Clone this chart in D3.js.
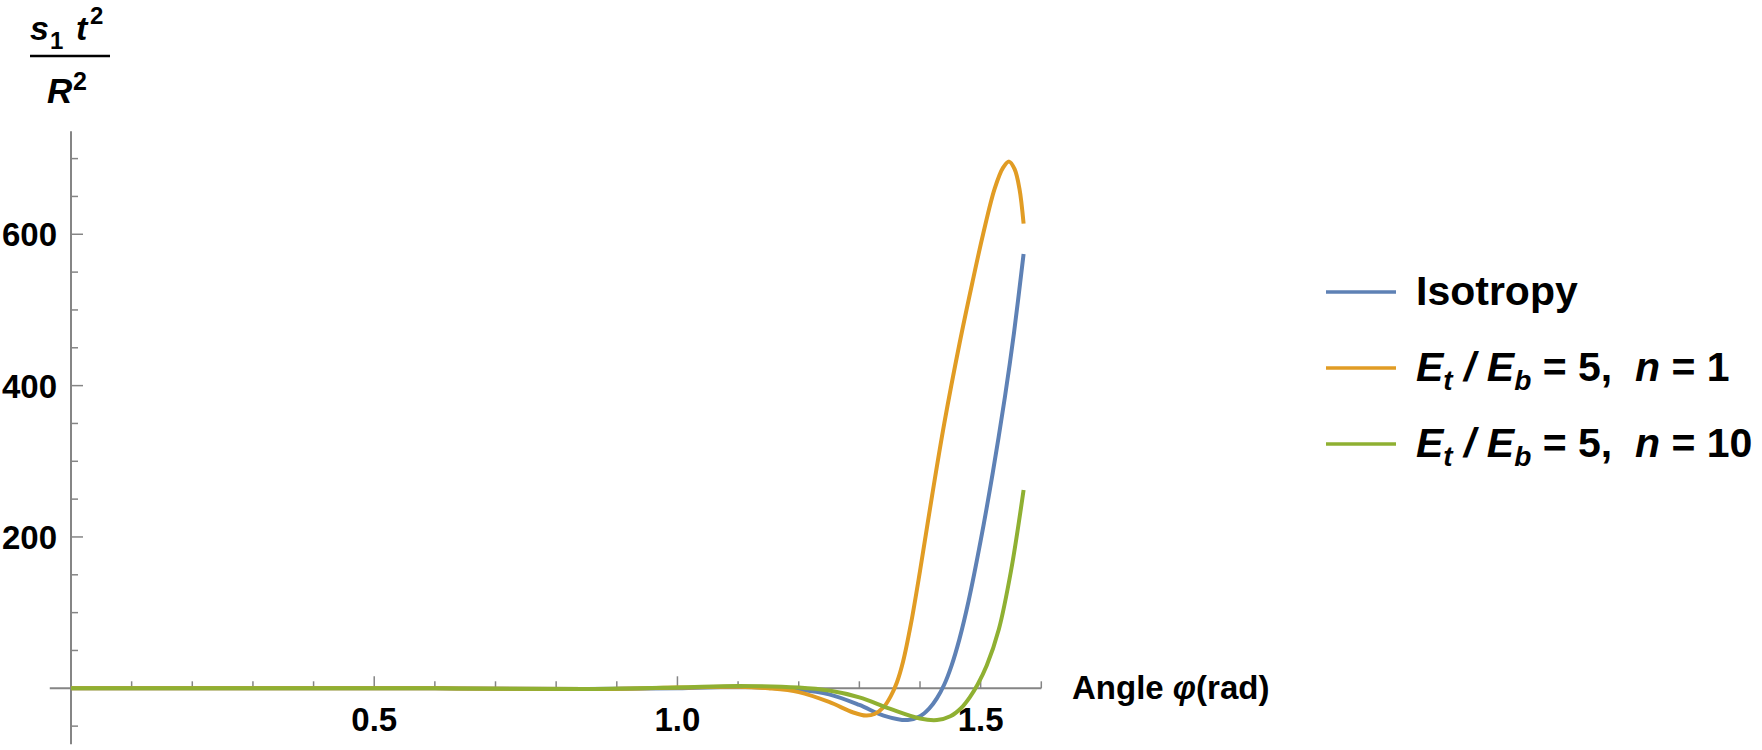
<!DOCTYPE html>
<html>
<head>
<meta charset="utf-8">
<script src="https://cdn.jsdelivr.net/npm/d3@7"></script>
<style>
  body { margin: 0; background: #fff; }
  svg text { font-family: "Liberation Sans", Arial, sans-serif; font-weight: bold; fill: #000; }
</style>
</head>
<body>
<div id="chart"></div>
<script>
// series data (phi in rad, value = s1 t^2 / R^2)
const phiIso = [0, 0.3, 0.6, 0.85, 1.0, 1.1, 1.2, 1.25, 1.3, 1.34, 1.38, 1.40, 1.415, 1.428, 1.44, 1.452, 1.465, 1.48, 1.50, 1.52, 1.54, 1.555, 1.5708];
const valIso = [0, 0, 0, -1, 0, 2, -2, -8, -22, -36, -42, -37, -27, -13, 5, 30, 65, 115, 195, 285, 385, 470, 574];

const phiN1 = [0, 0.3, 0.6, 0.85, 1.0, 1.1, 1.15, 1.2, 1.25, 1.29, 1.311, 1.325, 1.34, 1.352, 1.362, 1.372, 1.385, 1.40, 1.42, 1.44, 1.465, 1.486, 1.504, 1.523, 1.537, 1.547, 1.556, 1.564, 1.5708];
const valN1 = [0, 0, 0, -1, 1, 2, 0, -5, -18, -32, -36, -34, -25, -10, 8, 35, 85, 155, 255, 350, 455, 535, 600, 660, 688, 696, 686, 660, 614];

const phiN10 = [0, 0.3, 0.6, 0.85, 1.0, 1.1, 1.2, 1.25, 1.3, 1.35, 1.4, 1.428, 1.45, 1.468, 1.482, 1.495, 1.51, 1.53, 1.55, 1.5708];
const valN10 = [0, 0, 0, -1, 1, 3, 1, -3, -12, -27, -40, -42, -37, -26, -12, 5, 30, 78, 155, 262];

const seriesNames = ["Isotropy", "n1", "n10"];
const seriesColors = ["#5E81B5", "#E19C24", "#8FB032"];

const xMajor = [0.5, 1.0, 1.5];
const xMinor = [0.1, 0.2, 0.3, 0.4, 0.6, 0.7, 0.8, 0.9, 1.1, 1.2, 1.3, 1.4, 1.6];
const yMajor = [200, 400, 600];
const yMinor = [-50, 50, 100, 150, 250, 300, 350, 450, 500, 550, 650, 700];

const W = 1762, H = 750;

const svg = d3.select("#chart").append("svg")
    .attr("width", W)
    .attr("height", H);

svg.append("rect").attr("width", W).attr("height", H).attr("fill", "#fff");

const x = d3.scaleLinear().domain([0, 1.6]).range([71, 1041.3]);
const y = d3.scaleLinear().domain([0, 700]).range([688.3, 158.6]);

const axisColor = "#858585";

// axes lines
svg.append("line")
    .attr("x1", x(-0.035)).attr("x2", x(1.6))
    .attr("y1", y(0)).attr("y2", y(0))
    .attr("stroke", axisColor).attr("stroke-width", 2);

svg.append("line")
    .attr("x1", x(0)).attr("x2", x(0))
    .attr("y1", y(736)).attr("y2", y(-74))
    .attr("stroke", axisColor).attr("stroke-width", 2);

// x ticks (pointing up)
svg.selectAll(".xmaj").data(xMajor).join("line")
    .attr("x1", d => x(d)).attr("x2", d => x(d))
    .attr("y1", y(0)).attr("y2", y(0) - 12)
    .attr("stroke", axisColor).attr("stroke-width", 1.5);

svg.selectAll(".xmin").data(xMinor).join("line")
    .attr("x1", d => x(d)).attr("x2", d => x(d))
    .attr("y1", y(0)).attr("y2", y(0) - 7)
    .attr("stroke", axisColor).attr("stroke-width", 1.5);

svg.selectAll(".xlab").data(xMajor).join("text")
    .attr("x", d => x(d))
    .attr("y", 731)
    .attr("text-anchor", "middle")
    .style("font-size", "33px")
    .text(d => d3.format(".1f")(d));

// y ticks (pointing right)
svg.selectAll(".ymaj").data(yMajor).join("line")
    .attr("x1", x(0)).attr("x2", x(0) + 12)
    .attr("y1", d => y(d)).attr("y2", d => y(d))
    .attr("stroke", axisColor).attr("stroke-width", 1.5);

svg.selectAll(".ymin").data(yMinor).join("line")
    .attr("x1", x(0)).attr("x2", x(0) + 7)
    .attr("y1", d => y(d)).attr("y2", d => y(d))
    .attr("stroke", axisColor).attr("stroke-width", 1.5);

svg.selectAll(".ylab").data(yMajor).join("text")
    .attr("x", 57)
    .attr("y", d => y(d) + 12)
    .attr("text-anchor", "end")
    .style("font-size", "33px")
    .text(d => d);

// x axis title
const xt = svg.append("text")
    .attr("x", 1072)
    .attr("y", 699)
    .style("font-size", "33px");
xt.append("tspan").text("Angle ");
xt.append("tspan").style("font-style", "italic").text("\u03C6");
xt.append("tspan").text("(rad)");

// y axis title: s1 t^2 / R^2
const yt = svg.append("g");
yt.append("text").attr("x", 30).attr("y", 40).style("font-size", "34px").style("font-style", "italic").text("s");
yt.append("text").attr("x", 50).attr("y", 49).style("font-size", "24px").text("1");
yt.append("text").attr("x", 76).attr("y", 40).style("font-size", "34px").style("font-style", "italic").text("t");
yt.append("text").attr("x", 90).attr("y", 24).style("font-size", "24px").text("2");
yt.append("line").attr("x1", 30).attr("x2", 110).attr("y1", 56).attr("y2", 56)
    .attr("stroke", "#000").attr("stroke-width", 2.5);
yt.append("text").attr("x", 47).attr("y", 103).style("font-size", "35px").style("font-style", "italic").text("R");
yt.append("text").attr("x", 73).attr("y", 90).style("font-size", "25px").text("2");

// curves
const line = d3.line()
    .x(d => x(d[0]))
    .y(d => y(d[1]))
    .curve(d3.curveCatmullRom.alpha(0.5));

const series = [
    d3.zip(phiIso, valIso),
    d3.zip(phiN1, valN1),
    d3.zip(phiN10, valN10)
];

svg.append("g").selectAll("path")
    .data(series)
    .join("path")
    .attr("d", line)
    .attr("fill", "none")
    .attr("stroke", (d, i) => seriesColors[i])
    .attr("stroke-width", 4);

// legend
const legendY = [292, 368, 444];
const legend = svg.append("g");
legend.selectAll("line").data(seriesNames).join("line")
    .attr("x1", 1326).attr("x2", 1396)
    .attr("y1", (d, i) => legendY[i]).attr("y2", (d, i) => legendY[i])
    .attr("stroke", (d, i) => seriesColors[i])
    .attr("stroke-width", 3.5);

legend.append("text").attr("x", 1416).attr("y", legendY[0] + 13)
    .style("font-size", "41px").text("Isotropy");

function ratioLabel(row, nVal) {
    const t = legend.append("text").attr("x", 1416).attr("y", legendY[row] + 13)
        .style("font-size", "41px");
    t.append("tspan").style("font-style", "italic").text("E");
    t.append("tspan").style("font-style", "italic").style("font-size", "28px").attr("dy", 9).text("t");
    t.append("tspan").style("font-style", "italic").attr("dy", -9).text(" / E");
    t.append("tspan").style("font-style", "italic").style("font-size", "28px").attr("dy", 9).text("b");
    t.append("tspan").attr("dy", -9).text(" = 5,\u00A0\u00A0");
    t.append("tspan").style("font-style", "italic").text("n");
    t.append("tspan").text(" = " + nVal);
}
ratioLabel(1, 1);
ratioLabel(2, 10);
</script>
</body>
</html>
